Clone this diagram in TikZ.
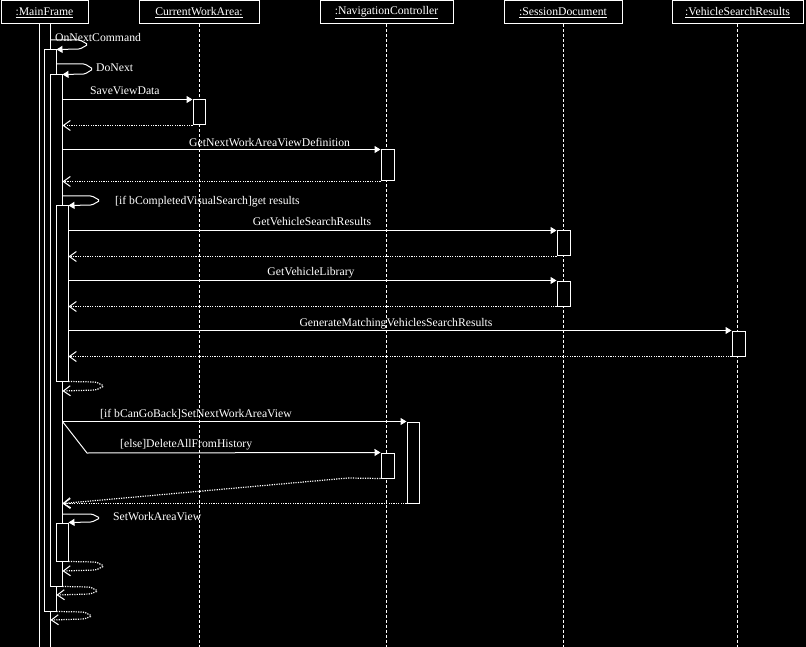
\documentclass[tikz,border=0pt]{standalone}
\usepackage{fontspec}
\setmainfont{Liberation Serif}
\usetikzlibrary{arrows.meta,fit}
\begin{document}
\begin{tikzpicture}[x=1pt,y=-1pt,
  every node/.style={text=white, font=\fontsize{11.7}{14}\selectfont},
  hdr/.style={draw=white, line width=1pt, inner sep=0pt, minimum height=23pt},
  act/.style={draw=white, fill=black, line width=1pt, inner sep=0pt},
  life/.style={draw=white, line width=1pt, dash pattern=on 3pt off 2pt},
  msg/.style={draw=white, line width=1pt, rounded corners=1.5pt, -{Triangle[length=6pt,width=7pt]}},
  ret/.style={draw=white, line width=1.2pt, rounded corners=1.5pt, dash pattern=on 1.2pt off 1.2pt, -{Straight Barb[length=7pt,width=10pt,line width=1pt]}},
  lbl/.style={anchor=base west, inner sep=0pt},
  clbl/.style={anchor=base, inner sep=0pt}]
\useasboundingbox (0,0) rectangle (806,647);
\fill[black] (0,0) rectangle (806,647);

% headers
\node[hdr, minimum width=87pt] (mf) at (44.5,12.5) {\underline{:MainFrame}};
\node[hdr, minimum width=120pt] (cwa) at (199,12.5) {\underline{CurrentWorkArea:}};
\node[hdr, minimum width=133pt] (nc) at (386.5,12.5) {\underline{:NavigationController}};
\node[hdr, minimum width=118pt] (sd) at (563,12.5) {\underline{:SessionDocument}};
\node[hdr, minimum width=131pt] (vsr) at (737.5,12.5) {\underline{:VehicleSearchResults}};

% lifelines
\coordinate (bot) at (0,647);
\draw[life] (cwa.south) -- (cwa.south |- bot);
\draw[life] (nc.south) -- (nc.south |- bot);
\draw[life] (sd.south) -- (sd.south |- bot);
\draw[life] (vsr.south) -- (vsr.south |- bot);

% activations on MainFrame
\node[act, fit={(39,24)(50,652)}] (a1) {};
\node[act, fit={(44,50)(56,611)}] (a2) {};
\node[act, fit={(50,75)(62,586)}] (a3) {};
\node[act, fit={(56,206)(68,381)}] (a4) {};
\node[act, fit={(56,523)(68,561)}] (a5) {};

% activations on other lifelines
\node[act, fit={(193,100)(205,125)}] (cwa1) {};
\node[act, fit={(381,150)(394,181)}] (nc1) {};
\node[act, fit={(557,231)(570,256)}] (sd1) {};
\node[act, fit={(557,281)(570,306)}] (sd2) {};
\node[act, fit={(732,331)(745,356)}] (vsr1) {};
\node[act, fit={(407,422)(419,503)}] (nc3) {};
\node[act, fit={(381,453)(394,478)}] (nc2) {};

% self calls
\draw[msg] (a1.east |- 0,40) -- (80,40) -- (88,44.5) -- (80,49) -- (a2.north east);
\node[lbl] (l1) at (55,42) {OnNextCommand};
\draw[msg] (a2.east |- 0,64) -- (85,64) -- (93,69) -- (85,74) -- (a3.north east);
\node[lbl] (l2) at (96,72) {DoNext};
\draw[msg] (a3.east |- 0,196) -- (92,196) -- (100,200.5) -- (92,205) -- (a4.north east);
\node[lbl] (l3) at (115,205) {[if bCompletedVisualSearch]get results};
\draw[msg] (a3.east |- 0,514) -- (92,514) -- (100,518) -- (92,522) -- (a5.north east);
\node[lbl] (l4) at (113,520) {SetWorkAreaView};

% return loops
\draw[ret] (a4.south east) -- (96,382) -- (104,386) -- (96,390) -- (a3.east |- 0,391);
\draw[ret] (a5.south east) -- (96,562) -- (104,566) -- (96,570) -- (a3.east |- 0,571);
\draw[ret] (a3.south east) -- (90,587) -- (98,591) -- (90,594) -- (a2.east |- 0,595);
\draw[ret] (a2.south east) -- (84,612) -- (92,616) -- (84,619) -- (a1.east |- 0,620);

% messages
\draw[msg] (a3.east |- cwa1.north) -- (cwa1.north west);
\node[lbl] (l5) at (90,95) {SaveViewData};
\draw[ret] (cwa1.south west) -- (a3.east |- cwa1.south);

\draw[msg] (a3.east |- nc1.north) -- (nc1.north west);
\node[lbl] (l6) at (189,147) {GetNextWorkAreaViewDefinition};
\draw[ret] (nc1.south west) -- (a3.east |- nc1.south);

\draw[msg] (a4.east |- sd1.north) -- (sd1.north west);
\node[clbl] (l7) at (312,226) {GetVehicleSearchResults};
\draw[ret] (sd1.south west) -- (a4.east |- sd1.south);

\draw[msg] (a4.east |- sd2.north) -- (sd2.north west);
\node[clbl] (l8) at (311,276) {GetVehicleLibrary};
\draw[ret] (sd2.south west) -- (a4.east |- sd2.south);

\draw[msg] (a4.east |- vsr1.north) -- (vsr1.north west);
\node[clbl] (l9) at (396,326) {GenerateMatchingVehiclesSearchResults};
\draw[ret] (vsr1.south west) -- (a4.east |- vsr1.south);

\coordinate (br) at (a3.east |- nc3.north);
\draw[msg] (br) -- (nc3.north west);
\node[lbl] (l10) at (100,417) {[if bCanGoBack]SetNextWorkAreaView};
\draw[msg, rounded corners=0pt] (br) -- (87,453) -- (nc2.north west);
\node[lbl] (l11) at (120,447) {[else]DeleteAllFromHistory};

\draw[ret, rounded corners=0pt] (nc2.south west) -- (348,478) -- (a3.east |- nc3.south);
\draw[ret] (nc3.south west) -- (a3.east |- nc3.south);
\end{tikzpicture}
\end{document}
